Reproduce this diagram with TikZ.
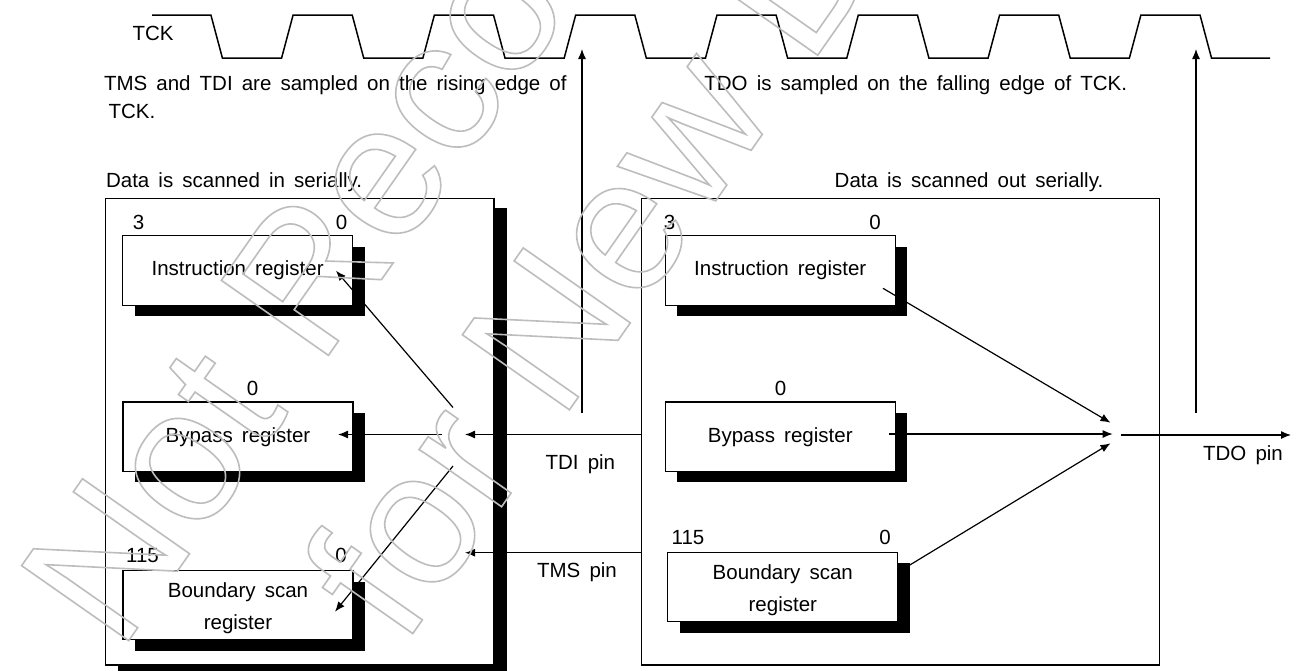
\documentclass[tikz,border=0pt]{standalone}
\usepackage{fontspec}
\setmainfont{Liberation Sans}[WordSpace=1.6]
\newfontfamily\wmfont{Liberation Sans}
\usetikzlibrary{arrows.meta,shadows}
\begin{document}
\begin{tikzpicture}[x=1pt,y=-1pt,line width=1.2pt,
  txt/.style={font=\fontsize{20.5}{25}\selectfont,inner sep=0pt,anchor=base},
  regbox/.style={draw=black,fill=white,line width=1.2pt,inner sep=0pt,
     minimum width=230pt,minimum height=69.5pt,align=center,
     font=\fontsize{20.5}{31.5}\selectfont,
     drop shadow={shadow xshift=12pt,shadow yshift=-11pt,opacity=1,fill=black}},
  outerbox/.style={draw=black,fill=white,line width=1.2pt,inner sep=0pt},
  arr/.style={-{Latex[length=10pt,width=8pt]},line width=1.2pt},
  clk/.style={line width=1.5pt,line join=miter},
  wm/.style={rotate=55,anchor=base west,inner sep=0pt,text=black!26,
     font=\wmfont\fontsize{190}{226}\selectfont}]
\useasboundingbox (0,0) rectangle (1299,670);

% clock waveform
\draw[clk] (152,15) foreach \k in {0,...,6} {
   -- ({210.9+141.3*\k},15) -- ({222.4+141.3*\k},58)
   -- ({281.6+141.3*\k},58) -- ({293.1+141.3*\k},15) }
   -- (1200,15) -- (1211.5,58) -- (1270,58);
\node[txt] (tck) at (153,40.5) {TCK};

% notes
\node[txt,anchor=north west,align=left,font=\fontsize{20.5}{28}\selectfont] (tmsnote) at (103.4,75.5)
  {TMS and TDI are sampled on the rising edge of\\\hspace*{4.5pt}TCK.};
\node[txt,anchor=base west] (tdonote) at (703.8,90.5) {TDO is sampled on the falling edge of TCK.};
\node[txt,anchor=base west] (datain) at (105.5,187.5) {Data is scanned in serially.};
\node[txt] (dataout) at (969,187.5) {Data is scanned out serially.};

% outer boxes
\node[outerbox,minimum width=388.3pt,minimum height=466.7pt,
  drop shadow={shadow xshift=12.5pt,shadow yshift=-9.5pt,opacity=1,fill=black}] (leftbox) at (299.85,431.65) {};
\node[outerbox,minimum width=518pt,minimum height=466.7pt] (rightbox) at (900.5,431.65) {};

% left registers
\node[regbox] (lir) at (237.6,270.35) {Instruction register};
\node[regbox] (lbp) at (238,436.7) {Bypass register};
\node[regbox,minimum height=69pt] (lbs) at (238,605) {\rule{0pt}{21pt}Boundary scan\\register};
% right registers
\node[regbox] (rir) at (780.25,270.35) {Instruction register};
\node[regbox] (rbp) at (780.25,436.7) {Bypass register};
\node[regbox,minimum height=69.4pt] (rbs) at (782.8,587) {\rule{0pt}{21pt}Boundary scan\\register};

% bit labels
\node[txt] (lir3) at (138.5,229.2) {3};
\node[txt] (lir0) at (341.5,229.2) {0};
\node[txt] (lbp0) at (252.5,395.5) {0};
\node[txt] (lbs115) at (142.5,562) {115};
\node[txt] (lbs0) at (341,562) {0};
\node[txt] (rir3) at (669.5,229.2) {3};
\node[txt] (rir0) at (875,229.2) {0};
\node[txt] (rbp0) at (780.5,395.5) {0};
\node[txt] (rbs115) at (688,544.2) {115};
\node[txt] (rbs0) at (885,544.2) {0};

% pin labels
\node[txt] (tdipin) at (580.4,469.5) {TDI pin};
\node[txt] (tmspin) at (577,577) {TMS pin};
\node[txt] (tdopin) at (1243,460.5) {TDO pin};

% coordinates
\coordinate (tdiBot) at (582,413);
\coordinate (tdiTip) at (582,49);
\coordinate (tdoBot) at (1196,413);
\coordinate (tdoTip) at (1196,49);
\coordinate (tdiEnd) at (465,434.5);
\coordinate (tmsEnd) at (465,552.7);
\coordinate (brL) at (441.5,434.5);
\coordinate (lbpTip) at (338,434.5);
\coordinate (brUp) at (453,407.5);
\coordinate (lirTip) at (336,270.7);
\coordinate (brDn) at (453,466);
\coordinate (lbsTip) at (335,611.7);
\coordinate (rirStart) at (883,288.3);
\coordinate (mux1) at (1110.5,422.7);
\coordinate (rbpStart) at (889,434);
\coordinate (mux2) at (1112.7,434);
\coordinate (rbsStart) at (909.8,565);
\coordinate (mux3) at (1110.5,443.3);
\coordinate (tdoStart) at (1120.7,435);
\coordinate (tdoEnd) at (1291,435);

% connectors
\draw[arr] (tdiBot) -- (tdiTip);
\draw[arr] (tdoBot) -- (tdoTip);
\draw[arr] (rightbox.west |- tdiEnd) -- (tdiEnd);
\draw[arr] (rightbox.west |- tmsEnd) -- (tmsEnd);
\draw[arr] (brL) -- (lbpTip);
\draw[arr] (brUp) -- (lirTip);
\draw[arr] (brDn) -- (lbsTip);
\draw[arr] (rirStart) -- (mux1);
\draw[arr] (rbpStart) -- (mux2);
\draw[arr] (rbsStart) -- (mux3);
\draw[arr] (tdoStart) -- (tdoEnd);

% watermark (outlined text)
\begin{scope}
\node[wm] (wm1) at (119.4,653.9) {\special{pdf:literal direct 1 Tr 1.6 w 0.74 G}Not Recommended};
\end{scope}
\begin{scope}
\node[wm] (wm2) at (402.8,647.8) {\special{pdf:literal direct 1 Tr 1.6 w 0.74 G}for New Design};
\end{scope}
\end{tikzpicture}
\end{document}
